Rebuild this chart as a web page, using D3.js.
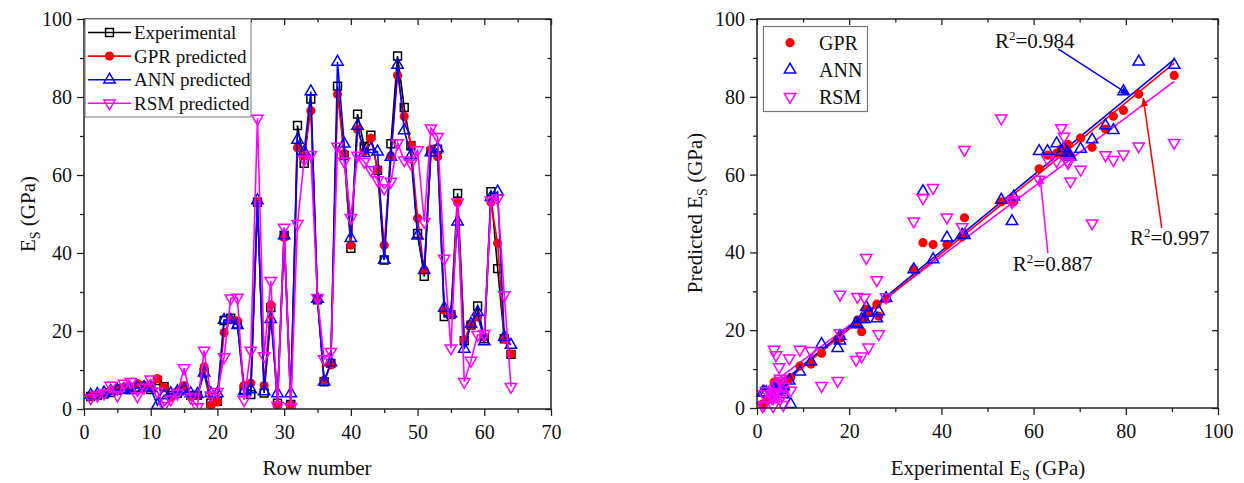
<!DOCTYPE html>
<html><head><meta charset="utf-8">
<script src="https://cdn.jsdelivr.net/npm/d3@7"></script>
<style>
body{margin:0;background:#fff}
text{font-family:"Liberation Serif","Times New Roman",serif;fill:#111}
</style>
</head><body>
<svg id="c" width="1244" height="483"></svg>
<script>
// ---------------- data ----------------
const rowNumbers = d3.range(1, 65);
const experimental = [3.2,3.5,3.8,4.2,4.8,5.2,5.0,5.5,5.8,5.0,
  7.3,5.7,3.5,4.0,4.8,3.5,3.5,9.3,1.5,2.0,
  22.7,23.3,21.8,5.0,3.7,53.0,4.1,26.0,1.5,44.5,
  1.2,72.7,63.0,79.5,28.0,7.0,11.7,82.8,65.0,41.2,
  75.6,67.3,70.2,61.2,38.2,68.0,90.5,77.3,67.5,45.0,
  34.0,66.0,66.6,23.7,24.2,55.3,17.5,21.5,26.4,18.0,
  55.7,36.0,18.0,14.0];
const gprPredicted = [3.3,3.6,4.0,4.6,5.2,5.6,5.5,6.5,6.0,5.4,
  7.8,5.5,3.0,4.5,6.0,3.2,3.5,10.8,1.0,1.8,
  19.6,23.0,22.6,6.0,6.6,53.0,6.0,26.7,1.0,44.0,
  1.0,67.0,65.0,76.5,28.0,7.4,11.3,80.7,65.5,42.0,
  71.7,66.0,69.4,61.5,42.0,64.9,85.5,75.0,67.7,48.9,
  35.6,66.6,64.7,25.4,24.5,53.0,17.7,21.6,23.6,18.4,
  53.0,42.5,18.0,14.1];
const annPredicted = [3.6,3.8,4.2,4.6,4.9,5.0,4.8,5.4,5.6,5.3,
  1.0,3.5,4.0,4.5,5.0,4.0,3.8,9.3,4.0,4.0,
  22.8,22.8,21.5,4.5,5.0,53.5,4.5,23.0,4.0,44.5,
  4.0,69.0,66.0,81.4,28.2,7.0,11.9,89.0,68.0,43.8,
  72.6,65.6,66.6,66.0,38.2,64.6,88.2,71.4,65.0,44.4,
  35.6,65.8,66.8,25.9,24.4,48.0,15.4,21.8,24.8,17.3,
  54.3,55.7,18.5,16.4];
const rsmPredicted = [2.8,3.5,4.0,6.0,3.5,6.5,7.0,3.3,5.5,7.6,
  4.5,0.8,2.5,4.0,10.5,3.0,0.5,15.0,3.5,4.4,
  13.3,28.4,28.6,2.3,15.0,74.5,13.6,32.9,0.8,46.5,
  0.5,47.5,64.0,65.2,28.5,12.8,14.7,67.3,63.5,49.0,
  65.0,63.4,61.3,58.7,56.6,58.3,68.2,63.8,63.0,66.4,
  48.0,72.0,69.8,38.6,15.6,53.0,7.0,12.4,19.0,19.3,
  53.5,54.0,29.2,5.7];
const xTicksLeft = [0,10,20,30,40,50,60,70];
const xTicksRight = [0,20,40,60,80,100];
const yTicks = [0,20,40,60,80,100];
const fitIntercepts = {GPR: 0.9, ANN: 1.3, RSM: 3.4};
const fitSlopes = {GPR: 0.970, ANN: 0.976, RSM: 0.890};
const r2Values = {GPR: "0.997", ANN: "0.984", RSM: "0.887"};

const series = [
  {key:"EXP", name:"Experimental", values:experimental, color:"#000000", sym:"square"},
  {key:"GPR", name:"GPR predicted", values:gprPredicted, color:"#ff0000", sym:"circle"},
  {key:"ANN", name:"ANN predicted", values:annPredicted, color:"#0000ff", sym:"tri"},
  {key:"RSM", name:"RSM predicted", values:rsmPredicted, color:"#ff00ff", sym:"itri"}
];

const svg = d3.select("#c");
const FS = 20;

function symPath(t){
  if (t==="square") return d3.symbol(d3.symbolSquare, 62)();
  if (t==="circle") return d3.symbol(d3.symbolCircle, 66)();
  return d3.symbol(d3.symbolTriangle, 56)();
}
function drawSym(g, t, color, x, y){
  const p = g.append("path").attr("d", symPath(t))
    .attr("transform", `translate(${x},${y})` + (t==="itri" ? " rotate(180)" : ""));
  if (t==="circle") p.attr("fill", color).attr("stroke","none");
  else p.attr("fill","none").attr("stroke", color).attr("stroke-width", 1.5);
  return p;
}

function subLabel(sel, parts){
  sel.append("tspan").text(parts[0]);
  sel.append("tspan").attr("font-size", FS*0.7).attr("dy", 5).text(parts[1]);
  sel.append("tspan").attr("dy", -5).text(parts[2]);
}

function frame(x, y, xTicksMajor, xMinorStep){
  const [x0,x1] = x.range(), [y0,y1] = y.range();
  const g = svg.append("g");
  const xd = x.domain();
  const xMinor = d3.range(xd[0], xd[1]+0.001, xMinorStep).filter(v => !xTicksMajor.includes(v));
  const yMinor = d3.range(0, 100.001, 10).filter(v => !yTicks.includes(v));
  g.append("g").attr("transform",`translate(0,${y0})`)
    .call(d3.axisBottom(x).tickValues(xTicksMajor).tickSize(7).tickPadding(9).tickFormat(d3.format("d")))
    .call(a=>{a.select(".domain").remove(); a.selectAll("text").attr("font-size",FS).attr("font-family","Liberation Serif").attr("fill","#111");});
  g.append("g").attr("transform",`translate(0,${y0})`)
    .call(d3.axisBottom(x).tickValues(xMinor).tickSize(4).tickFormat(""))
    .call(a=>a.select(".domain").remove());
  g.append("g").attr("transform",`translate(0,${y1})`)
    .call(d3.axisTop(x).tickValues(xTicksMajor).tickSize(-6).tickFormat(""))
    .call(a=>a.select(".domain").remove());
  g.append("g").attr("transform",`translate(0,${y1})`)
    .call(d3.axisTop(x).tickValues(xMinor).tickSize(-3.5).tickFormat(""))
    .call(a=>a.select(".domain").remove());
  g.append("g").attr("transform",`translate(${x0},0)`)
    .call(d3.axisLeft(y).tickValues(yTicks).tickSize(7).tickPadding(5).tickFormat(d3.format("d")))
    .call(a=>{a.select(".domain").remove(); a.selectAll("text").attr("font-size",FS).attr("font-family","Liberation Serif").attr("fill","#111");});
  g.append("g").attr("transform",`translate(${x0},0)`)
    .call(d3.axisLeft(y).tickValues(yMinor).tickSize(4).tickFormat(""))
    .call(a=>a.select(".domain").remove());
  g.append("g").attr("transform",`translate(${x1},0)`)
    .call(d3.axisRight(y).tickValues(yTicks).tickSize(-6).tickFormat(""))
    .call(a=>a.select(".domain").remove());
  g.append("g").attr("transform",`translate(${x1},0)`)
    .call(d3.axisRight(y).tickValues(yMinor).tickSize(-3.5).tickFormat(""))
    .call(a=>a.select(".domain").remove());
  g.selectAll(".tick line").attr("stroke","#222").attr("stroke-width",1.3);
  g.append("rect").attr("x",x0).attr("y",y1).attr("width",x1-x0).attr("height",y0-y1)
    .attr("fill","none").attr("stroke","#222").attr("stroke-width",1.5);
  return g;
}

// ---------------- left chart ----------------
const xL = d3.scaleLinear([0,70],[84,551]);
const yL = d3.scaleLinear([0,100],[409,19]);
const gL = svg.append("g");
svg.append("clipPath").attr("id","clipL").append("rect")
  .attr("x",84).attr("y",0).attr("width",551-84).attr("height",409);
series.forEach(s=>{
  const g = gL.append("g").attr("clip-path","url(#clipL)");
  const line = d3.line().x((d,i)=>xL(rowNumbers[i])).y(d=>yL(d));
  g.append("path").attr("d", line(s.values)).attr("fill","none")
    .attr("stroke", s.color).attr("stroke-width", 1.6);
  s.values.forEach((v,i)=> drawSym(g, s.sym, s.color, xL(rowNumbers[i]), yL(v)));
});
frame(xL, yL, xTicksLeft, 5);

// left legend
const lg = svg.append("g");
lg.append("rect").attr("x",85).attr("y",19).attr("width",166).attr("height",98)
  .attr("fill","#fff").attr("stroke","#777").attr("stroke-width",1);
series.forEach((s,i)=>{
  const yy = 32.5 + i*23.6;
  lg.append("line").attr("x1",88).attr("x2",131).attr("y1",yy).attr("y2",yy)
    .attr("stroke",s.color).attr("stroke-width",1.6);
  drawSym(lg, s.sym, s.color, 109.5, yy);
  lg.append("text").attr("x",134).attr("y",yy+6.5).attr("font-size",19).text(s.name);
});

svg.append("text").attr("x", 317).attr("y", 475).attr("text-anchor","middle")
  .attr("font-size",21).text("Row number");
subLabel(svg.append("text").attr("transform","translate(35,214) rotate(-90)")
  .attr("text-anchor","middle").attr("font-size",21), ["E","S"," (GPa)"]);

// ---------------- right chart ----------------
const xR = d3.scaleLinear([0,100],[757,1218]);
const yR = d3.scaleLinear([0,100],[408,19]);
const gR = svg.append("g");
const expExtent = d3.extent(experimental);
["RSM","GPR","ANN"].forEach(k=>{
  const s = series.find(d=>d.key===k);
  gR.append("line")
    .attr("x1", xR(expExtent[0])).attr("y1", yR(fitIntercepts[k] + fitSlopes[k]*expExtent[0]))
    .attr("x2", xR(expExtent[1])).attr("y2", yR(fitIntercepts[k] + fitSlopes[k]*expExtent[1]))
    .attr("stroke", s.color).attr("stroke-width", 1.6);
});
series.slice(1).forEach(s=>{
  const g = gR.append("g");
  s.values.forEach((v,i)=> drawSym(g, s.sym, s.color, xR(experimental[i]), yR(v)));
});
frame(xR, yR, xTicksRight, 10);

const defs = svg.append("defs");
series.slice(1).forEach(s=>{
  defs.append("marker").attr("id","ah"+s.key).attr("viewBox","0 0 10 10")
    .attr("refX",9).attr("refY",5).attr("markerWidth",9).attr("markerHeight",9)
    .attr("markerUnits","userSpaceOnUse").attr("orient","auto")
    .append("path").attr("d","M0,1 L10,5 L0,9 Z").attr("fill",s.color);
});
const annotations = [
  {key:"ANN", tx:51.6, ty:92.5, from:[65.3,92.3], to:[80.6,80.6]},
  {key:"GPR", tx:80.9, ty:42.0, from:[87.8,46.3], to:[83.8,79.6]},
  {key:"RSM", tx:55.5, ty:35.2, from:[63.1,39.8], to:[61.4,59.6]}
];
annotations.forEach(a=>{
  const s = series.find(d=>d.key===a.key);
  svg.append("line").attr("x1",xR(a.from[0])).attr("y1",yR(a.from[1]))
    .attr("x2",xR(a.to[0])).attr("y2",yR(a.to[1]))
    .attr("stroke",s.color).attr("stroke-width",1.5).attr("marker-end",`url(#ah${a.key})`);
  const t = svg.append("text").attr("x",xR(a.tx)).attr("y",yR(a.ty)).attr("font-size",21);
  t.append("tspan").text("R");
  t.append("tspan").attr("font-size",13).attr("dy",-8).text("2");
  t.append("tspan").attr("dy",8).text("=" + r2Values[a.key]);
});

const rg = svg.append("g");
rg.append("rect").attr("x",763.5).attr("y",26.5).attr("width",104).attr("height",85)
  .attr("fill","#fff").attr("stroke","#777").attr("stroke-width",1.2);
series.slice(1).forEach((s,i)=>{
  const yy = 42.7 + i*27;
  drawSym(rg, s.sym, s.color, 790, yy);
  rg.append("text").attr("x",819).attr("y",yy+7).attr("font-size",20).text(s.key);
});

subLabel(svg.append("text").attr("x", 988).attr("y", 475).attr("text-anchor","middle")
  .attr("font-size",21), ["Experimental E","S"," (GPa)"]);
subLabel(svg.append("text").attr("transform","translate(702,213) rotate(-90)")
  .attr("text-anchor","middle").attr("font-size",21), ["Predicted E","S"," (GPa)"]);
</script>
</body></html>
